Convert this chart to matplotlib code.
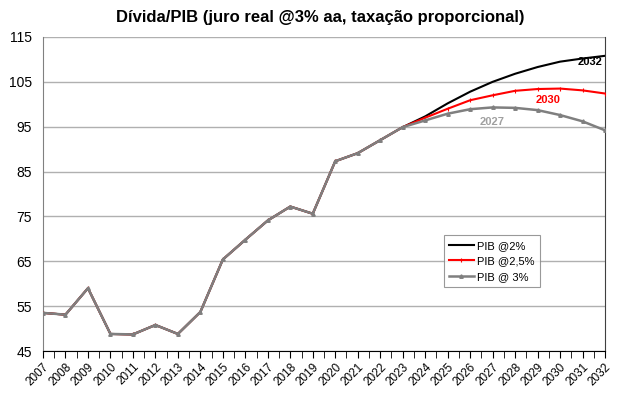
import matplotlib
matplotlib.use("Agg")
import matplotlib.pyplot as plt
import numpy as np

years = list(range(2007, 2033))
hist = [53.5, 53.1, 59.0, 48.8, 48.7, 50.8, 48.8, 53.7, 65.4, 69.8, 74.1, 77.2, 75.6,
        87.3, 89.1, 92.0, 94.9]
proj_2 = [97.3, 100.2, 102.8, 105.0, 106.8, 108.3, 109.5, 110.2, 110.8]
proj_25 = [97.0, 99.0, 100.9, 102.0, 103.0, 103.4, 103.5, 103.1, 102.4]
proj_3 = [96.4, 97.9, 98.9, 99.3, 99.2, 98.7, 97.6, 96.2, 94.2]

s2 = hist + proj_2
s25 = hist + proj_25
s3 = hist + proj_3

labels = ["PIB @2%", "PIB @2,5%", "PIB @ 3%"]
title = "Dívida/PIB (juro real @3% aa, taxação proporcional)"

plt.rcParams['font.family'] = ['Liberation Sans', 'DejaVu Sans']

fig = plt.figure(figsize=(6.4, 3.99), dpi=100)
ax = fig.add_axes([0.0672, 0.1203, 0.8781, 0.787])

ax.plot(years, s2, color='black', lw=1.5, label=labels[0], zorder=3)
ax.plot(years, s25, color='red', lw=1.5, marker='|', ms=3, mew=0.8, label=labels[1], zorder=4)
ax.plot(years, s3, color='#7f7f7f', lw=1.8, marker='^', ms=2.5, label=labels[2], zorder=5)

ax.set_xlim(2007, 2032)
ax.set_ylim(45, 115)
ax.set_yticks(range(45, 116, 10))
ax.yaxis.grid(True, color='#b0b0b0', lw=1)
ax.set_axisbelow(True)
ax.tick_params(axis='y', length=0, labelsize=10, pad=8)
ax.set_xticks(years)
ax.set_xticklabels([str(y) for y in years], rotation=45, ha='right', rotation_mode='anchor', fontsize=8.5)
ax.set_xticks(np.arange(2007.5, 2032, 1.0), minor=True)
ax.tick_params(axis='x', which='both', direction='out', length=5, color='black', pad=2)

ax.spines['top'].set_visible(False)
ax.spines['left'].set_color('#808080')
ax.spines['right'].set_color('#404040')
ax.spines['bottom'].set_color('black')

ax.text(2031.33, 109.4, "2032", color='black', fontsize=8, fontweight='bold', ha='center', va='center', zorder=6)
ax.text(2029.47, 100.9, "2030", color='red', fontsize=8, fontweight='bold', ha='center', va='center', zorder=6)
ax.text(2027.0, 96.0, "2027", color='#a0a0a0', fontsize=8, fontweight='bold', ha='center', va='center', zorder=6)

leg = ax.legend(loc='upper left', bbox_to_anchor=(0.713, 0.369), fontsize=8, frameon=True,
                fancybox=False, edgecolor='#808080', handlelength=2.2, handletextpad=0.3,
                borderpad=0.5, labelspacing=0.5, borderaxespad=0)
leg.get_frame().set_linewidth(0.8)

fig.text(0.5, 0.957, title, ha='center', va='center', fontsize=12, fontweight='bold')

fig.savefig("out.png", dpi=100)
